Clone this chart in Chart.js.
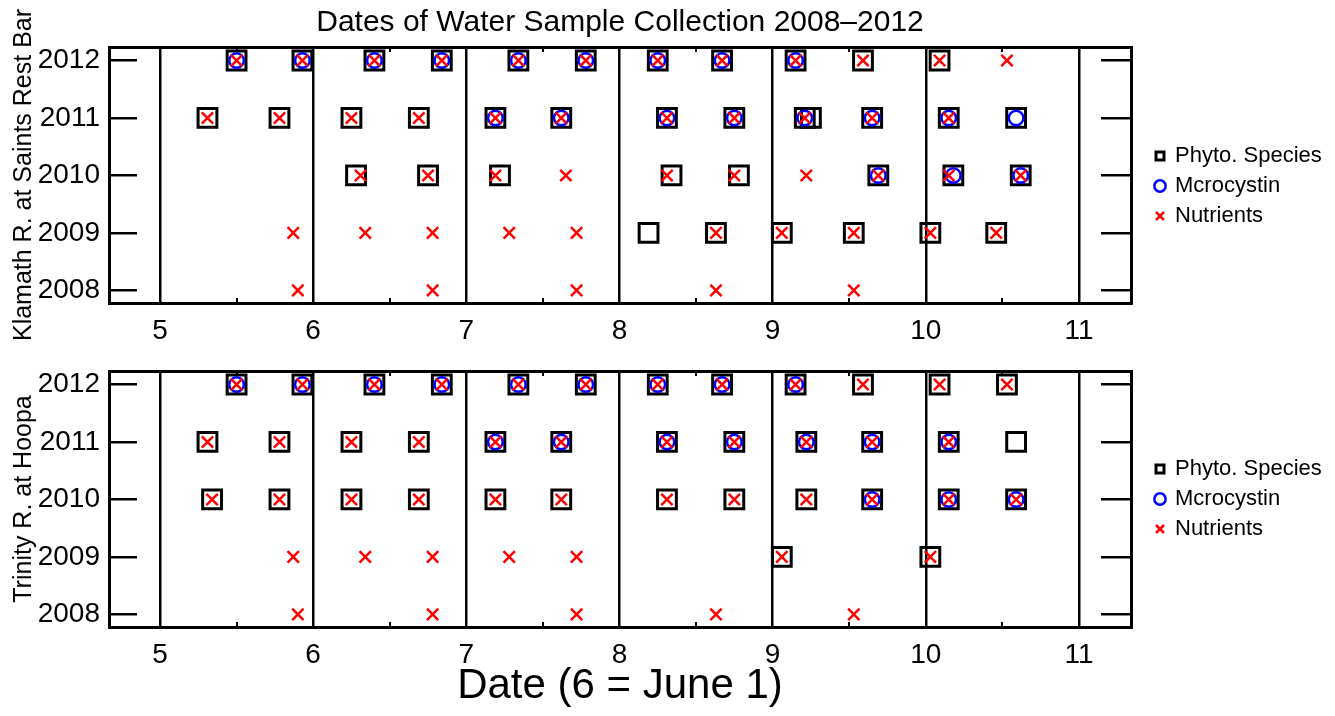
<!DOCTYPE html>
<html>
<head>
<meta charset="utf-8">
<script src="https://cdn.jsdelivr.net/npm/chart.js@4.4.1/dist/chart.umd.min.js"></script>
<style>
  html, body { margin: 0; padding: 0; background: #ffffff; width: 1335px; height: 716px; overflow: hidden; }
  canvas { position: absolute; left: 0; display: block; }
  #chartA { top: 0; }
  #chartB { top: 350px; }
</style>
</head>
<body>
<canvas id="chartA" width="1335" height="350"></canvas>
<canvas id="chartB" width="1335" height="366"></canvas>
<script>
// ---------- text ----------
const chartTitle = 'Dates of Water Sample Collection 2008–2012';
const xAxisTitle = 'Date (6 = June 1)';
const klamathTitle = 'Klamath R. at Saints Rest Bar';
const trinityTitle = 'Trinity R. at Hoopa';
const seriesNames = ['Phyto. Species', 'Mcrocystin', 'Nutrients'];

// ---------- ticks ----------
const xTickValues = [5, 6, 7, 8, 9, 10, 11];
const xMinorTickValues = [5.5, 6.5, 7.5, 8.5, 9.5, 10.5];
const yearTickValues = [2008, 2009, 2010, 2011, 2012];
const xRange = [4.667, 11.34];
const yearRange = [2007.78, 2012.235];

// ---------- Klamath R. at Saints Rest Bar ----------
const klamathPhytoDates = [
  5.50, 5.93, 6.40, 6.84, 7.34, 7.78, 8.25, 8.67, 9.15, 9.59, 10.09,
  5.31, 5.78, 6.25, 6.69, 7.19, 7.62, 8.31, 8.75, 9.21, 9.25, 9.65, 10.15, 10.59,
  6.28, 6.75, 7.22, 8.34, 8.78, 9.69, 10.18, 10.62,
  8.19, 8.63, 9.06, 9.53, 10.03, 10.46];
const klamathPhytoYears = [
  2012, 2012, 2012, 2012, 2012, 2012, 2012, 2012, 2012, 2012, 2012,
  2011, 2011, 2011, 2011, 2011, 2011, 2011, 2011, 2011, 2011, 2011, 2011, 2011,
  2010, 2010, 2010, 2010, 2010, 2010, 2010, 2010,
  2009, 2009, 2009, 2009, 2009, 2009];

const klamathMicroDates = [
  5.50, 5.93, 6.40, 6.84, 7.34, 7.78, 8.25, 8.67, 9.15,
  7.19, 7.62, 8.31, 8.75, 9.21, 9.65, 10.15, 10.59,
  9.69, 10.18, 10.62];
const klamathMicroYears = [
  2012, 2012, 2012, 2012, 2012, 2012, 2012, 2012, 2012,
  2011, 2011, 2011, 2011, 2011, 2011, 2011, 2011,
  2010, 2010, 2010];

const klamathNutrDates = [
  5.50, 5.93, 6.40, 6.84, 7.34, 7.78, 8.25, 8.67, 9.15, 9.59, 10.09, 10.53,
  5.31, 5.78, 6.25, 6.69, 7.19, 7.62, 8.31, 8.75, 9.21, 9.65, 10.15,
  6.31, 6.75, 7.19, 7.65, 8.31, 8.75, 9.22, 9.69, 10.15, 10.62,
  5.87, 6.34, 6.78, 7.28, 7.72, 8.63, 9.06, 9.53, 10.03, 10.46,
  5.90, 6.78, 7.72, 8.63, 9.53];
const klamathNutrYears = [
  2012, 2012, 2012, 2012, 2012, 2012, 2012, 2012, 2012, 2012, 2012, 2012,
  2011, 2011, 2011, 2011, 2011, 2011, 2011, 2011, 2011, 2011, 2011,
  2010, 2010, 2010, 2010, 2010, 2010, 2010, 2010, 2010, 2010,
  2009, 2009, 2009, 2009, 2009, 2009, 2009, 2009, 2009, 2009,
  2008, 2008, 2008, 2008, 2008];

// ---------- Trinity R. at Hoopa ----------
const trinityPhytoDates = [
  5.50, 5.93, 6.40, 6.84, 7.34, 7.78, 8.25, 8.67, 9.15, 9.59, 10.09, 10.53,
  5.31, 5.78, 6.25, 6.69, 7.19, 7.62, 8.31, 8.75, 9.22, 9.65, 10.15, 10.59,
  5.34, 5.78, 6.25, 6.69, 7.19, 7.62, 8.31, 8.75, 9.22, 9.65, 10.15, 10.59,
  9.06, 10.03];
const trinityPhytoYears = [
  2012, 2012, 2012, 2012, 2012, 2012, 2012, 2012, 2012, 2012, 2012, 2012,
  2011, 2011, 2011, 2011, 2011, 2011, 2011, 2011, 2011, 2011, 2011, 2011,
  2010, 2010, 2010, 2010, 2010, 2010, 2010, 2010, 2010, 2010, 2010, 2010,
  2009, 2009];

const trinityMicroDates = [
  5.50, 5.93, 6.40, 6.84, 7.34, 7.78, 8.25, 8.67, 9.15,
  7.19, 7.62, 8.31, 8.75, 9.22, 9.65, 10.15,
  9.65, 10.15, 10.59];
const trinityMicroYears = [
  2012, 2012, 2012, 2012, 2012, 2012, 2012, 2012, 2012,
  2011, 2011, 2011, 2011, 2011, 2011, 2011,
  2010, 2010, 2010];

const trinityNutrDates = [
  5.50, 5.93, 6.40, 6.84, 7.34, 7.78, 8.25, 8.67, 9.15, 9.59, 10.09, 10.53,
  5.31, 5.78, 6.25, 6.69, 7.19, 7.62, 8.31, 8.75, 9.22, 9.65, 10.15,
  5.34, 5.78, 6.25, 6.69, 7.19, 7.62, 8.31, 8.75, 9.22, 9.65, 10.15, 10.59,
  5.87, 6.34, 6.78, 7.28, 7.72, 9.06, 10.03,
  5.90, 6.78, 7.72, 8.63, 9.53];
const trinityNutrYears = [
  2012, 2012, 2012, 2012, 2012, 2012, 2012, 2012, 2012, 2012, 2012, 2012,
  2011, 2011, 2011, 2011, 2011, 2011, 2011, 2011, 2011, 2011, 2011,
  2010, 2010, 2010, 2010, 2010, 2010, 2010, 2010, 2010, 2010, 2010, 2010,
  2009, 2009, 2009, 2009, 2009, 2009, 2009,
  2008, 2008, 2008, 2008, 2008];

// ---------- chart building ----------
Chart.defaults.font.family = "'Liberation Sans', Arial, Helvetica, sans-serif";
Chart.defaults.color = '#000000';

const FONT = "'Liberation Sans', Arial, Helvetica, sans-serif";
const toPoints = (xs, ys) => xs.map((x, i) => ({ x: x, y: ys[i] }));
const setTicks = (vals) => (scale) => { scale.ticks = vals.map(v => ({ value: v })); };

function buildDatasets(phytoX, phytoY, microX, microY, nutrX, nutrY) {
  return [
    { label: seriesNames[0], data: toPoints(phytoX, phytoY), pointStyle: 'rect',
      pointRadius: 13.3, pointBorderWidth: 3, borderColor: '#000000', pointBorderColor: '#000000',
      backgroundColor: 'rgba(0,0,0,0)', pointBackgroundColor: 'rgba(0,0,0,0)', order: 3 },
    { label: seriesNames[1], data: toPoints(microX, microY), pointStyle: 'circle',
      pointRadius: 7.3, pointBorderWidth: 2.5, borderColor: '#0000ff', pointBorderColor: '#0000ff',
      backgroundColor: 'rgba(0,0,0,0)', pointBackgroundColor: 'rgba(0,0,0,0)', order: 2 },
    { label: seriesNames[2], data: toPoints(nutrX, nutrY), pointStyle: 'crossRot',
      pointRadius: 8, pointBorderWidth: 2.5, borderColor: '#ff0000', pointBorderColor: '#ff0000',
      backgroundColor: 'rgba(0,0,0,0)', pointBackgroundColor: 'rgba(0,0,0,0)', order: 1 }
  ];
}

function buildOptions(panelTitle, isTop) {
  return {
    responsive: false,
    animation: false,
    events: [],
    layout: { padding: { top: isTop ? 0 : 21, right: 7, bottom: 0, left: 0 } },
    plugins: {
      tooltip: { enabled: false },
      title: {
        display: isTop,
        text: chartTitle,
        fullSize: false,
        color: '#000000',
        font: { family: FONT, size: 30, weight: 'normal' },
        padding: { top: 5, bottom: 6 }
      },
      legend: {
        display: true,
        position: 'right',
        align: 'center',
        fullSize: false,
        maxWidth: 180,
        title: { display: isTop, text: '', font: { size: 10 }, padding: 5 },
        labels: {
          usePointStyle: true,
          boxWidth: 8,
          boxHeight: 8,
          padding: 8,
          color: '#000000',
          font: { family: FONT, size: 22 },
          sort: (a, b) => a.datasetIndex - b.datasetIndex
        }
      }
    },
    scales: {
      x: {
        type: 'linear', position: 'bottom',
        min: xRange[0], max: xRange[1],
        afterBuildTicks: setTicks(xTickValues),
        ticks: { autoSkip: false, padding: 11, color: '#000000',
                 font: { family: FONT, size: 28 }, callback: v => String(v) },
        grid: { display: true, drawOnChartArea: true, drawTicks: false, color: '#000000', lineWidth: 2.5 },
        border: { display: true, color: '#000000', width: 3 },
        title: { display: !isTop, text: xAxisTitle, color: '#000000',
                 font: { family: FONT, size: 42 }, padding: { top: 0, bottom: 4 } },
        afterFit: s => { s.height = isTop ? 47 : 89; s.paddingLeft = 0; s.paddingRight = 0; }
      },
      xMinorBottom: {
        type: 'linear', position: 'bottom', weight: -1,
        min: xRange[0], max: xRange[1],
        afterBuildTicks: setTicks(xMinorTickValues),
        ticks: { display: false },
        grid: { display: true, drawOnChartArea: false, drawTicks: true, tickLength: -5, color: '#000000', lineWidth: 2 },
        border: { display: false },
        afterFit: s => { s.height = 0; s.paddingLeft = 0; s.paddingRight = 0; }
      },
      xMinorTop: {
        type: 'linear', position: 'top',
        min: xRange[0], max: xRange[1],
        afterBuildTicks: setTicks(xMinorTickValues),
        ticks: { display: false },
        grid: { display: true, drawOnChartArea: false, drawTicks: true, tickLength: -5, color: '#000000', lineWidth: 2 },
        border: { display: true, color: '#000000', width: 3 },
        afterFit: s => { s.height = 0; s.paddingLeft = 0; s.paddingRight = 0; }
      },
      y: {
        type: 'linear', position: 'left',
        min: yearRange[0], max: yearRange[1],
        afterBuildTicks: setTicks(yearTickValues),
        ticks: { autoSkip: false, padding: 37, color: '#000000',
                 font: { family: FONT, size: 28 }, callback: v => String(v) },
        grid: { display: true, drawOnChartArea: false, drawTicks: true, tickLength: -28, color: '#000000', lineWidth: 2.5 },
        border: { display: true, color: '#000000', width: 3 },
        title: { display: true, text: panelTitle, color: '#000000',
                 font: { family: FONT, size: 25 }, padding: { top: 9, bottom: 0 } },
        afterFit: s => { s.width = 109; s.paddingTop = 0; s.paddingBottom = 0; }
      },
      yRight: {
        type: 'linear', position: 'right',
        min: yearRange[0], max: yearRange[1],
        afterBuildTicks: setTicks(yearTickValues),
        ticks: { display: false },
        grid: { display: true, drawOnChartArea: false, drawTicks: true, tickLength: -30, color: '#000000', lineWidth: 2.5 },
        border: { display: true, color: '#000000', width: 3 },
        afterFit: s => { s.width = 17; s.paddingTop = 0; s.paddingBottom = 0; }
      }
    }
  };
}

new Chart(document.getElementById('chartA'), {
  type: 'scatter',
  data: { datasets: buildDatasets(klamathPhytoDates, klamathPhytoYears,
                                  klamathMicroDates, klamathMicroYears,
                                  klamathNutrDates, klamathNutrYears) },
  options: buildOptions(klamathTitle, true)
});

new Chart(document.getElementById('chartB'), {
  type: 'scatter',
  data: { datasets: buildDatasets(trinityPhytoDates, trinityPhytoYears,
                                  trinityMicroDates, trinityMicroYears,
                                  trinityNutrDates, trinityNutrYears) },
  options: buildOptions(trinityTitle, false)
});
</script>
</body>
</html>
